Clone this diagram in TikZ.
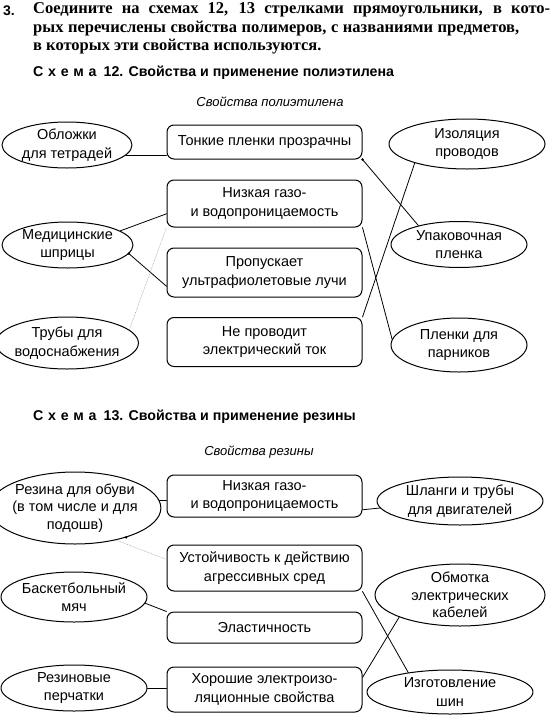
\documentclass[tikz,border=0pt]{standalone}
\usepackage{fontspec}
\setmainfont{Liberation Sans}
\newfontfamily\zadfont{Liberation Serif}
\usetikzlibrary{shapes.geometric}
\begin{document}
\begin{tikzpicture}[x=1pt, y=-1pt, font=\fontsize{14.5}{18.5}\selectfont, line join=round, line cap=round,
	svoj/.style={draw, line width=1pt, rounded corners=7pt, minimum width=195pt, align=center, inner sep=0pt},
	primen/.style={draw, line width=1pt, ellipse, align=center, inner sep=-2pt},
	tri/.style={font=\fontsize{14.5}{17.5}\selectfont},
	svyaz/.style={line width=0.8pt},
	karandash/.style={line width=0.5pt, gray!70, densely dotted},
	zad/.style={anchor=west, inner sep=0pt, font=\zadfont\bfseries\fontsize{16.5}{19}\selectfont},
	shema/.style={anchor=west, inner sep=0pt, font=\bfseries\fontsize{14.2}{16}\selectfont},
	zagl/.style={font=\itshape\fontsize{13}{15}\selectfont}]
	\def\xs{264.5}
	\useasboundingbox (0,0) rectangle (555,715);
	\node[anchor=west, inner sep=0pt, font=\bfseries\fontsize{14}{16}\selectfont] (nomer) at (3,11) {3.};
	\node[zad] (z1) at (33,10) {\makebox[517pt][s]{Соедините на схемах 12, 13 стрелками прямоугольники, в кото-}};
	\node[zad] (z2) at (33,29) {\makebox[486pt][s]{рых перечислены свойства полимеров, с названиями предметов,}};
	\node[zad] (z3) at (33,47) {в которых эти свойства используются.};
	\node[shema] (sh12) at (33,73) {С\,\,х\,\,е\,\,м\,\,а\enspace12. Свойства и применение полиэтилена};
	\node[zagl] (t12) at (270,102) {Свойства полиэтилена};
	\node[svoj, minimum height=34pt] (p1) at (\xs,142) {Тонкие пленки прозрачны};
	\node[svoj, minimum height=47pt] (p2) at (\xs,203.5) {Низкая газо-\\и водопроницаемость};
	\node[svoj, minimum height=49pt] (p3) at (\xs,272.5) {Пропускает\\ультрафиолетовые лучи};
	\node[svoj, minimum height=49pt] (p4) at (\xs,342) {Не проводит\\электрический ток};
	\node[primen, minimum width=130pt, minimum height=46pt] (e1) at (67,145) {Обложки\\для тетрадей};
	\node[primen, minimum width=131pt, minimum height=46pt] (e2) at (67.5,245) {Медицинские\\шприцы};
	\node[primen, minimum width=131pt, minimum height=52pt] (e3) at (67,343) {Трубы для\\водоснабжения};
	\node[primen, minimum width=156pt, minimum height=50pt] (r1) at (467,144) {Изоляция\\проводов};
	\node[primen, minimum width=136pt, minimum height=46pt] (r2) at (459,244.5) {Упаковочная\\пленка};
	\node[primen, minimum width=136pt, minimum height=54pt] (r3) at (459,345) {Пленки для\\парников};
	\draw[svyaz] (e1.-10) -- (e1.-10 -| p1.west);
	\draw[svyaz] (p1.south east) -- (r2.155);
	\draw[svyaz] (r1.200) -- (p4.north east);
	\draw[svyaz] (p2.south east) -- (r3.175);
	\draw[svyaz] (e2.15) -- (p2.186);
	\draw[svyaz] (e2.-8) -- (p3.188);
	\draw[karandash] (e3.12) -- (p2.south west);
	\fill (p1.south east) circle (1.3pt) (e2.-8) circle (1.3pt);
	\node[shema] (sh13) at (33,417) {С\,\,х\,\,е\,\,м\,\,а\enspace13. Свойства и применение резины};
	\node[zagl] (t13) at (259,452) {Свойства резины};
	\node[svoj, minimum height=42pt] (q1) at (\xs,496) {Низкая газо-\\и водопроницаемость};
	\node[svoj, minimum height=46pt] (q2) at (\xs,568) {Устойчивость к действию\\агрессивных сред};
	\node[svoj, minimum height=31pt] (q3) at (\xs,627.5) {Эластичность};
	\node[svoj, minimum height=45pt] (q4) at (\xs,689.5) {Хорошие электроизо-\\ляционные свойства};
	\node[primen, tri, minimum width=150pt, minimum height=72pt] (f1) at (75,508) {Резина для обуви\\(в том числе и для\\подошв)};
	\node[primen, minimum width=146pt, minimum height=50pt] (f2) at (74,597) {Баскетбольный\\мяч};
	\node[primen, minimum width=146pt, minimum height=46pt] (f3) at (74,688) {Резиновые\\перчатки};
	\node[primen, minimum width=166pt, minimum height=48pt] (g1) at (460,501) {Шланги и трубы\\для двигателей};
	\node[primen, tri, minimum width=170pt, minimum height=62pt] (g2) at (460,595) {Обмотка\\электрических\\кабелей};
	\node[primen, minimum width=166pt, minimum height=44pt] (g3) at (450,692) {Изготовление\\шин};
	\draw[svyaz] (f1.5) -- (f1.5 -| q1.west);
	\draw[svyaz] (q1.-8) -- (g1.185);
	\draw[karandash] (f1.-38) -- (q2.175);
	\fill (f1.-30) circle (1.3pt);
	\draw[svyaz] (f2.-5) -- (q3.north west);
	\draw[svyaz] (f3.east) -- (f3.east -| q4.west);
	\draw[svyaz] (q2.south east) -- (g3.155);
	\draw[svyaz] (g2.200) -- (q4.7);
\end{tikzpicture}
\end{document}
